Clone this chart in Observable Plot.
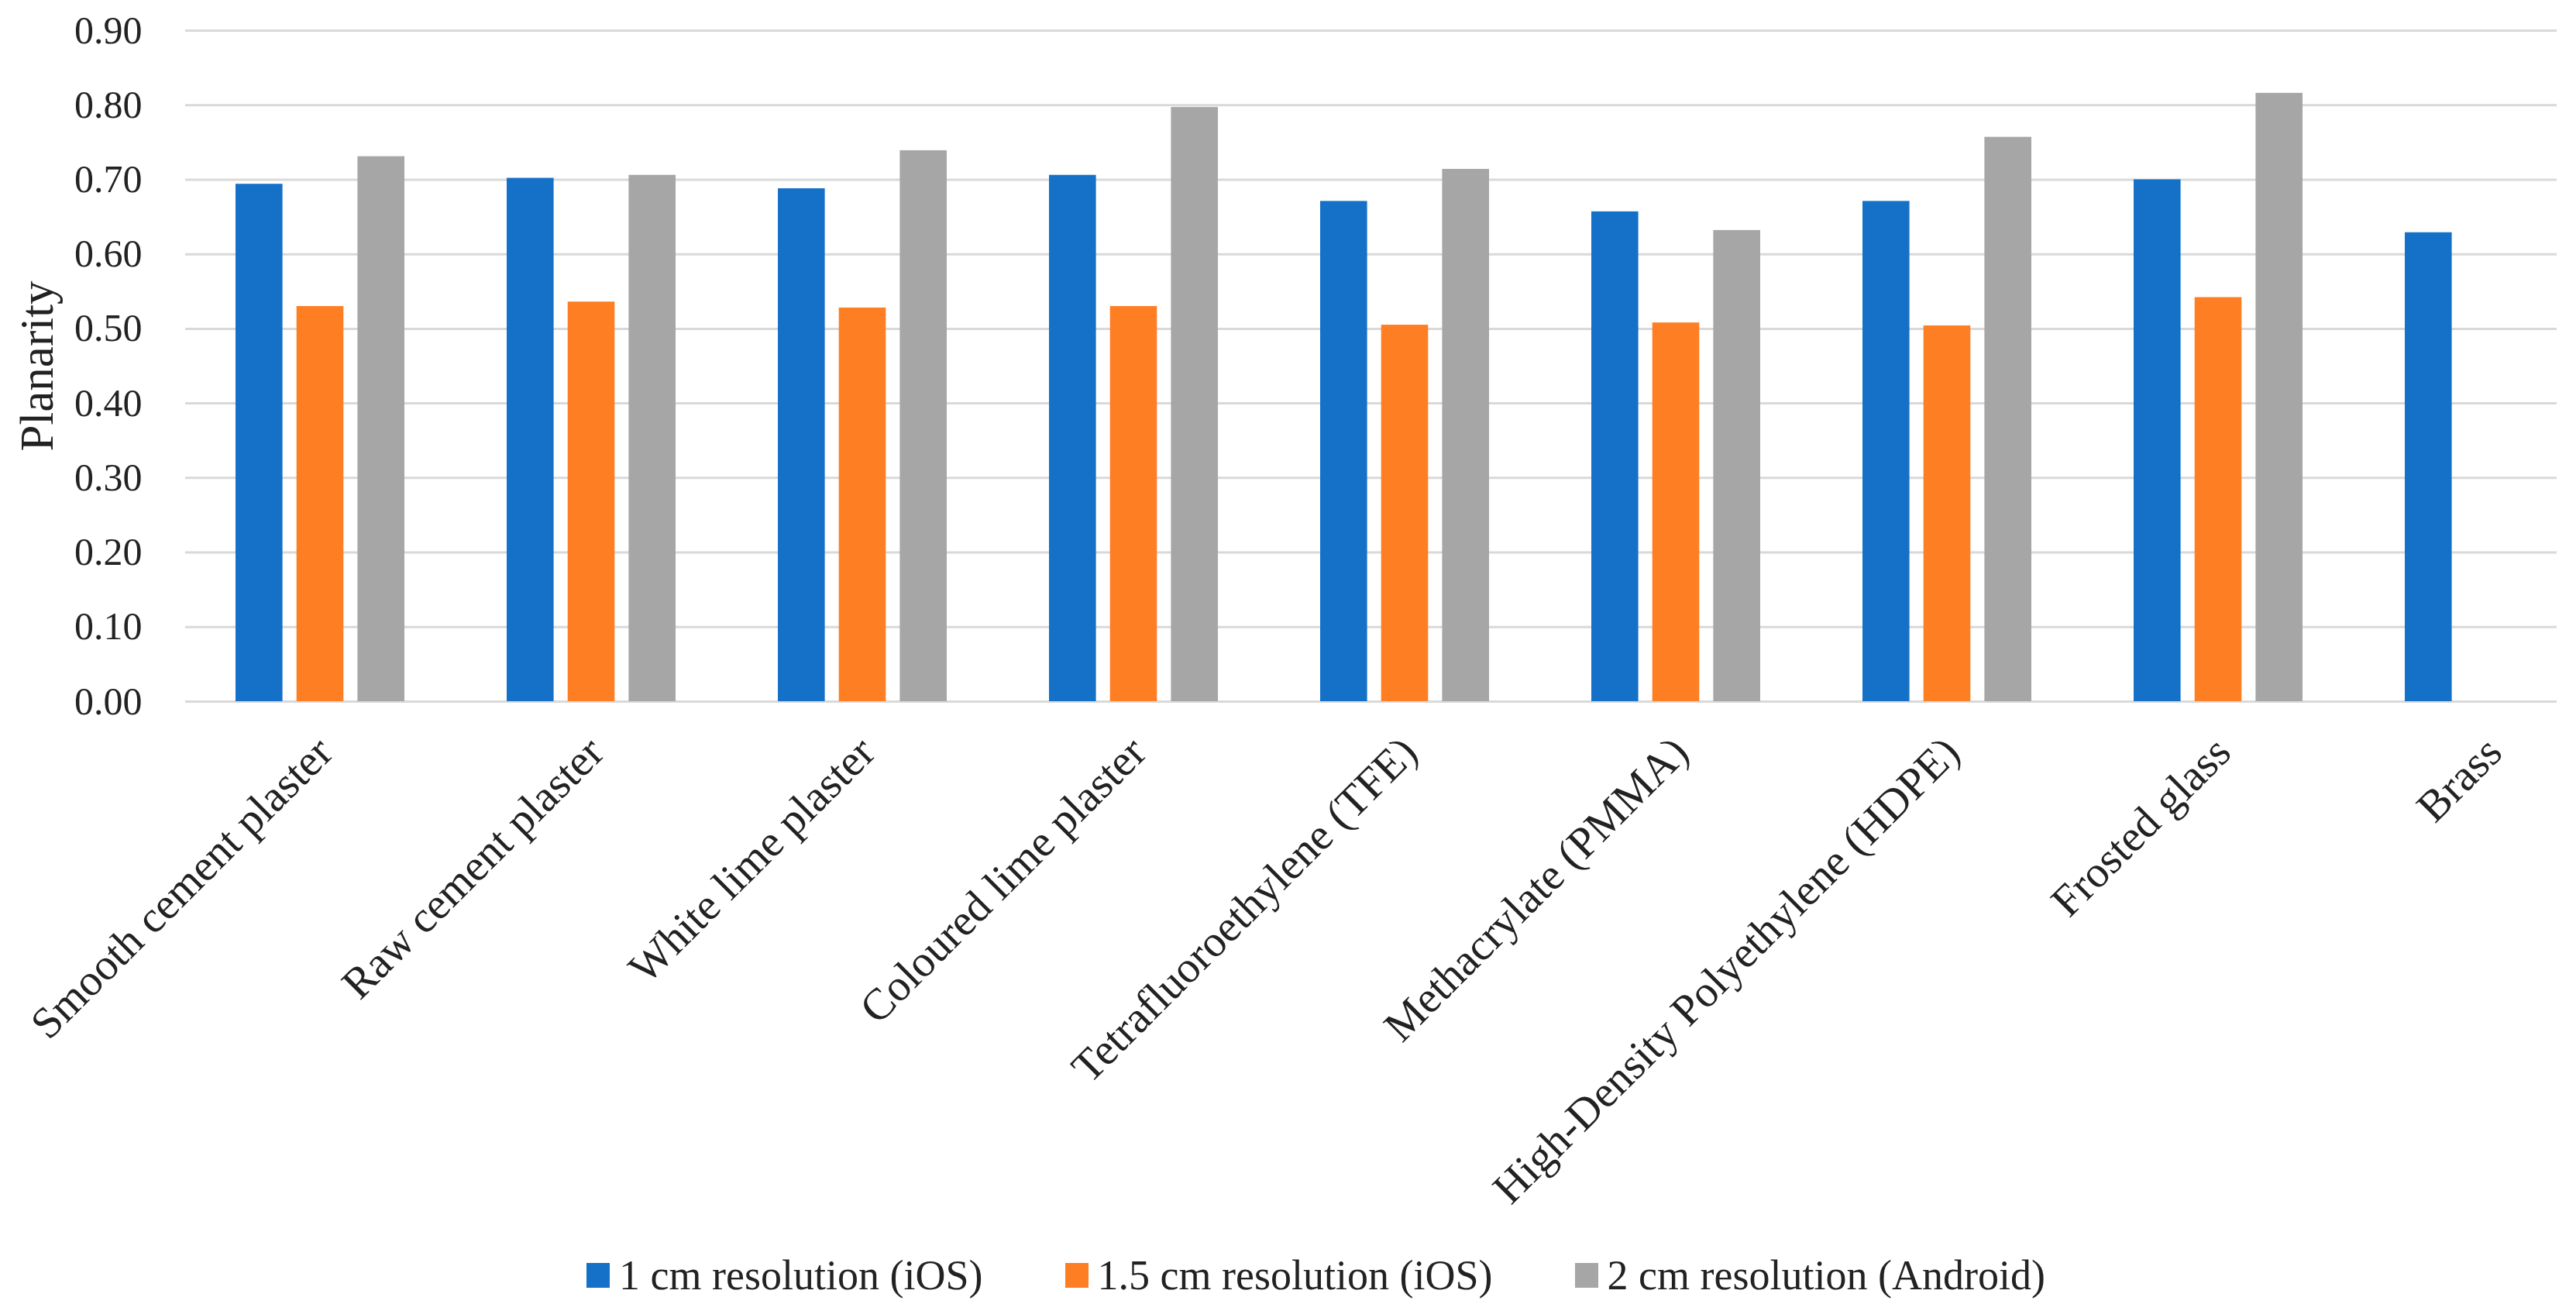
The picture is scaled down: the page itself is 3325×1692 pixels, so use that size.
<!DOCTYPE html>
<html>
<head>
<meta charset="utf-8">
<script src="https://cdn.jsdelivr.net/npm/d3@7"></script>
<script src="https://cdn.jsdelivr.net/npm/@observablehq/plot@0.6"></script>
<style>
  html, body { margin: 0; padding: 0; background: #fff; }
  #chart { width: 3325px; }
  .legend { width: 3325px; height: 92px; display: flex; align-items: center; justify-content: center; padding-left: 72px; box-sizing: border-box; font-family: "Liberation Serif", "DejaVu Serif", serif; font-size: 54px; color: #222; }
  .legend .item { display: flex; align-items: center; margin: 0 53px; }
  .legend .sw { width: 30px; height: 32px; margin-right: 12px; }
</style>
</head>
<body>
<div id="chart"></div>
<script>
const categories = [
  "Smooth cement plaster",
  "Raw cement plaster",
  "White lime plaster",
  "Coloured lime plaster",
  "Tetrafluoroethylene (TFE)",
  "Methacrylate (PMMA)",
  "High-Density Polyethylene (HDPE)",
  "Frosted glass",
  "Brass"
];
const ios1cm     = [0.694, 0.702, 0.688, 0.706, 0.671, 0.657, 0.671, 0.700, 0.629];
const ios15cm    = [0.530, 0.536, 0.528, 0.530, 0.505, 0.508, 0.504, 0.542, null];
const android2cm = [0.731, 0.706, 0.739, 0.797, 0.714, 0.632, 0.757, 0.816, null];
const seriesNames = ["1 cm resolution (iOS)", "1.5 cm resolution (iOS)", "2 cm resolution (Android)"];
const seriesColors = ["#1571c8", "#fe7e24", "#a6a6a6"];
const yTicks = [0, 0.1, 0.2, 0.3, 0.4, 0.5, 0.6, 0.7, 0.8, 0.9];
const yLabel = "Planarity";

const seriesValues = [ios1cm, ios15cm, android2cm];
const rows = seriesValues.map(vals =>
  categories.map((c, i) => ({category: c, value: vals[i]})).filter(d => d.value != null)
);

const W = 3325, H = 1600;
const step = 350.4, barW = 61, barStep = 78.7;
const inset = (step - barW) / 2;
const bandStart = 411.5 - step / 2;

const fontFamily = '"Liberation Serif", "DejaVu Serif", serif';

const chart = Plot.plot({
  width: W,
  height: H,
  marginTop: 39,
  marginBottom: H - 905,
  marginLeft: 239,
  marginRight: W - 3300,
  style: {fontFamily, color: "#222", background: "#fff"},
  x: {type: "band", domain: categories, range: [bandStart, bandStart + step * categories.length], padding: 0},
  y: {domain: [0, 0.9]},
  marks: [
    Plot.ruleY(yTicks, {stroke: "#d9d9d9", strokeWidth: 3}),
    ...rows.map((data, k) => Plot.barY(data, {
      x: "category", y: "value", fill: seriesColors[k],
      dx: (k - 1) * barStep, insetLeft: inset, insetRight: inset
    })),
    Plot.axisY(yTicks, {tickSize: 0, tickPadding: 56, tickFormat: d => d.toFixed(2), fontSize: 50, label: null}),
    Plot.axisX({tickSize: 0, tickRotate: -45, tickPadding: 56, dx: 6, fontSize: 57, label: null}),
    Plot.text([yLabel], {frameAnchor: "left", textAnchor: "middle", rotate: -90, dx: 48 - 239, fontSize: 61, fill: "#222"})
  ]
});
document.getElementById("chart").appendChild(chart);

const legend = document.createElement("div");
legend.className = "legend";
seriesNames.forEach((name, k) => {
  const item = document.createElement("div");
  item.className = "item";
  const sw = document.createElement("span");
  sw.className = "sw";
  sw.style.background = seriesColors[k];
  const label = document.createElement("span");
  label.textContent = name;
  item.appendChild(sw);
  item.appendChild(label);
  legend.appendChild(item);
});
document.body.appendChild(legend);
</script>
</body>
</html>
